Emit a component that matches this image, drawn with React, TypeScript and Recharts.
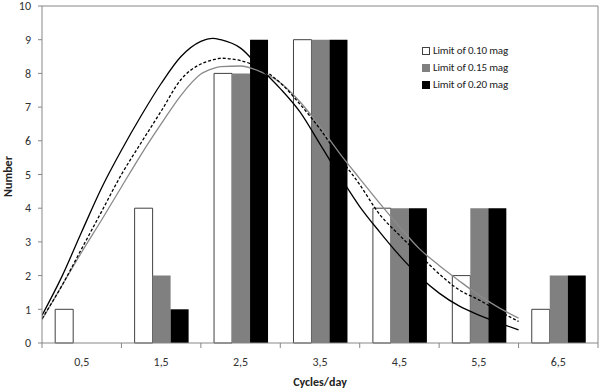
import React from 'react';
import { ComposedChart, Bar, Line, XAxis, YAxis, ReferenceLine, Legend } from 'recharts';

const categories = ['0,5', '1,5', '2,5', '3,5', '4,5', '5,5', '6,5'];
const limit010 = [1, 4, 8, 9, 4, 2, 1];
const limit015 = [0, 2, 8, 9, 4, 4, 2];
const limit020 = [0, 1, 9, 9, 4, 4, 2];
const yTicks = [0, 1, 2, 3, 4, 5, 6, 7, 8, 9, 10];

const curveX = [0, 0.25, 0.5, 0.75, 1, 1.25, 1.5, 1.75, 2, 2.15, 2.25, 2.5, 2.75, 3, 3.25, 3.5, 3.75, 4, 4.25, 4.5, 4.75, 5, 5.25, 5.5, 5.75, 6];
const fitBlack = [0.82, 1.97, 3.3, 4.6, 5.72, 6.75, 7.7, 8.5, 8.95, 9.04, 9.0, 8.75, 8.15, 7.55, 6.85, 5.9, 4.95, 4.05, 3.3, 2.6, 1.98, 1.48, 1.1, 0.83, 0.6, 0.39];
const fitDashed = [0.72, 1.7, 2.8, 3.9, 5.0, 5.95, 6.88, 7.82, 8.28, 8.4, 8.45, 8.38, 8.15, 7.72, 7.08, 6.35, 5.5, 4.7, 3.82, 3.2, 2.62, 2.05, 1.58, 1.28, 0.95, 0.64];
const fitGray = [0.69, 1.7, 2.7, 3.65, 4.63, 5.6, 6.5, 7.35, 7.98, 8.14, 8.2, 8.22, 8.05, 7.72, 7.15, 6.42, 5.62, 4.88, 4.15, 3.45, 2.8, 2.3, 1.85, 1.42, 1.05, 0.74];

const seriesNames = ['Limit of 0.10 mag', 'Limit of 0.15 mag', 'Limit of 0.20 mag'];

const barData = categories.map((c, i) => ({ cat: c, a: limit010[i], b: limit015[i], c: limit020[i] }));
const blackData = curveX.map((x, i) => ({ x, y: fitBlack[i] }));
const dashedData = curveX.map((x, i) => ({ x, y: fitDashed[i] }));
const grayData = curveX.map((x, i) => ({ x, y: fitGray[i] }));

const FONT = 'Carlito, Lato, sans-serif';
const AXIS = '#878787';
const TEXT = '#333333';

const XTick = (props: any) => {
  const { x, y, payload, index } = props;
  const half = payload && payload.offset ? payload.offset : 39.7;
  const last = index === categories.length - 1;
  return (
    <g>
      <line x1={x - half} y1={y} x2={x - half} y2={y + 5} stroke={AXIS} />
      {last && <line x1={x + half} y1={y} x2={x + half} y2={y + 5} stroke={AXIS} />}
      <text x={x} y={y + 23} textAnchor="middle" fontSize={12} fontFamily={FONT} fill={TEXT}>
        {payload.value}
      </text>
    </g>
  );
};

const YLabel = (props: any) => {
  const vb = props.viewBox || { x: 0, y: 6, width: 42, height: 337 };
  const cx = 12;
  const cy = vb.y + vb.height / 2 + 2;
  return (
    <text x={cx} y={cy} transform={`rotate(-90, ${cx}, ${cy})`} textAnchor="middle" fontSize={12} fontWeight="bold" fontFamily={FONT} fill="#222">
      Number
    </text>
  );
};

const XLabel = (props: any) => {
  const vb = props.viewBox || { x: 42, y: 343, width: 556, height: 48 };
  return (
    <text x={vb.x + vb.width / 2} y={386} textAnchor="middle" fontSize={12} fontWeight="bold" fontFamily={FONT} fill="#222">
      Cycles/day
    </text>
  );
};

const legendItems = [
  { name: seriesNames[0], fill: '#ffffff', stroke: '#404040' },
  { name: seriesNames[1], fill: '#808080', stroke: '#808080' },
  { name: seriesNames[2], fill: '#000000', stroke: '#000000' },
];

const LegendContent = () => (
  <div style={{ fontFamily: FONT, fontSize: 11, letterSpacing: -0.15, color: '#222', lineHeight: '17px' }}>
    {legendItems.map((it) => (
      <div key={it.name} style={{ display: 'flex', alignItems: 'center', height: 17, whiteSpace: 'nowrap' }}>
        <span style={{ display: 'inline-block', width: 6, height: 6, background: it.fill, border: `1px solid ${it.stroke}`, marginRight: 3 }} />
        <span>{it.name}</span>
      </div>
    ))}
  </div>
);

export default function App() {
  return (
    <div style={{ position: 'absolute', left: 0, top: 0, width: 600, height: 391, background: '#fff' }}>
      <ComposedChart width={600} height={391} data={barData} margin={{ top: 6, right: 2, left: 0, bottom: 0 }} barCategoryGap="16.6%" barGap={0}>
        <XAxis xAxisId="cat" dataKey="cat" type="category" height={48} tickLine={false} tickSize={0} tickMargin={0} axisLine={{ stroke: AXIS }} tick={<XTick />} interval={0} label={<XLabel />} />
        <XAxis xAxisId="num" dataKey="x" type="number" domain={[0, 7]} allowDataOverflow hide />
        <YAxis domain={[0, 10]} ticks={yTicks} interval={0} width={42} tickSize={4} tickMargin={7} axisLine={{ stroke: AXIS }} tickLine={{ stroke: AXIS }} tick={{ fontSize: 12, fontFamily: FONT, fill: TEXT }} label={<YLabel />} />
        <ReferenceLine y={10} xAxisId="cat" stroke={AXIS} />
        <ReferenceLine x={7} xAxisId="num" stroke={AXIS} />
        <Bar xAxisId="cat" dataKey="a" name={seriesNames[0]} fill="#ffffff" stroke="#404040" strokeWidth={1} isAnimationActive={false} />
        <Bar xAxisId="cat" dataKey="b" name={seriesNames[1]} fill="#808080" isAnimationActive={false} />
        <Bar xAxisId="cat" dataKey="c" name={seriesNames[2]} fill="#000000" isAnimationActive={false} />
        <Line xAxisId="num" data={grayData} dataKey="y" type="monotone" stroke="#8a8a8a" strokeWidth={1.3} dot={false} activeDot={false} isAnimationActive={false} legendType="none" />
        <Line xAxisId="num" data={dashedData} dataKey="y" type="monotone" stroke="#000" strokeWidth={1.3} strokeDasharray="3 2" dot={false} activeDot={false} isAnimationActive={false} legendType="none" />
        <Line xAxisId="num" data={blackData} dataKey="y" type="monotone" stroke="#000" strokeWidth={1.3} dot={false} activeDot={false} isAnimationActive={false} legendType="none" />
        <Legend layout="horizontal" align="center" verticalAlign="middle" content={<LegendContent />} wrapperStyle={{ left: 422, top: 42, width: 'auto' }} />
      </ComposedChart>
    </div>
  );
}
